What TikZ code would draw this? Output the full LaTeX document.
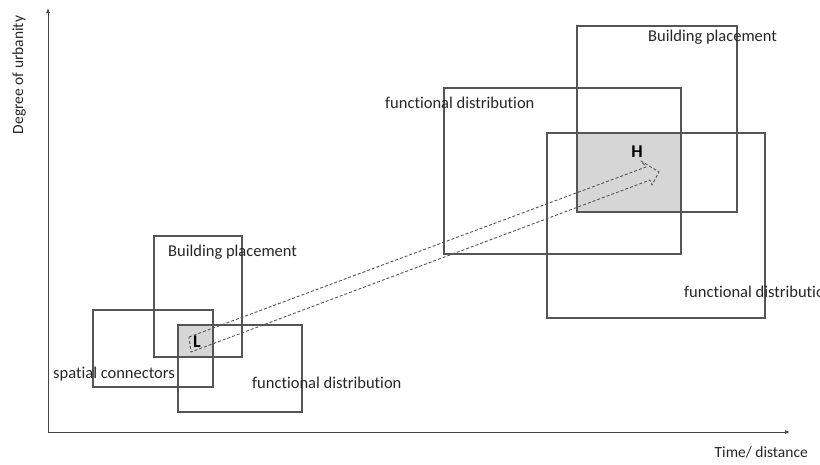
\documentclass[tikz,border=0pt]{standalone}
\usepackage{fontspec}
\setmainfont{Carlito}[Ligatures=NoCommon]
\usetikzlibrary{arrows.meta}
\definecolor{boxgray}{HTML}{555555}
\definecolor{fillgray}{HTML}{D6D6D6}
\definecolor{txtgray}{HTML}{262626}
\definecolor{axgray}{HTML}{444444}
\begin{document}
\begin{tikzpicture}[x=1pt,y=-1pt,
  zone/.style={draw=boxgray, line width=1.1pt, inner sep=0pt, outer sep=0pt, anchor=north west},
  lbl/.style={font=\fontsize{16.5}{19}\selectfont, text=txtgray, inner sep=0pt, anchor=west},
  axlbl/.style={font=\fontsize{15.5}{18}\selectfont, text=txtgray, inner sep=0pt},
  letterlbl/.style={font=\fontsize{18}{20}\selectfont\bfseries, text=black, inner sep=0pt},
  axis/.style={draw=axgray, line width=1pt, -{Latex[length=5pt,width=4pt]}},
  hollow/.style={draw=boxgray, line width=0.9pt, dash pattern=on 3pt off 2pt, line join=round}]
\useasboundingbox (0,0) rectangle (820,464);
\clip (0,0) rectangle (820,464);
% gray intersections
\fill[fillgray] (178,325) rectangle (213,357);
\fill[fillgray] (577,133) rectangle (681,212);
% small boxes
\node[zone, minimum width=88pt, minimum height=121pt] (bpS) at (154,236) {};
\node[zone, minimum width=120pt, minimum height=77pt] (scS) at (93,310) {};
\node[zone, minimum width=124pt, minimum height=87pt] (fdS) at (178,325) {};
% large boxes
\node[zone, minimum width=160pt, minimum height=186pt] (bpL) at (577,26) {};
\node[zone, minimum width=237pt, minimum height=166pt] (fdLa) at (444,88) {};
\node[zone, minimum width=218pt, minimum height=185pt] (fdLb) at (547,133) {};
% axes
\coordinate (O) at (48,432);
\coordinate (Ytop) at (48,8);
\coordinate (Xend) at (790,432);
\draw[axis] (O) -- (Ytop);
\draw[axis] (O) -- (Xend);
\node[axlbl, rotate=90] (ylab) at (19,75) {Degree of urbanity};
\node[axlbl, anchor=east] (xlab) at (808,452) {Time/ distance};
% labels
\node[lbl] (t1) at (168,252) {Building placement};
\node[lbl] (t2) at (53,374) {spatial connectors};
\node[lbl] (t3) at (252,383) {functional distribution};
\node[lbl] (t4) at (385,103) {functional distribution};
\node[lbl] (t5) at (648,37) {Building placement};
\node[lbl] (t6) at (684,292) {functional distribution};
\node[letterlbl] (L) at (197,342) {L};
\node[letterlbl] (H) at (637,152) {H};
% hollow dashed arrow L -> H
\coordinate (a1) at (189,337);
\coordinate (a2) at (646,167);
\coordinate (a3) at (641,161);
\coordinate (a4) at (659,172);
\coordinate (a5) at (652,185);
\coordinate (a6) at (650,180);
\coordinate (a7) at (191,352);
\draw[hollow] (a1) -- (a2) -- (a3) -- (a4) -- (a5) -- (a6) -- (a7) -- cycle;
\end{tikzpicture}
\end{document}
